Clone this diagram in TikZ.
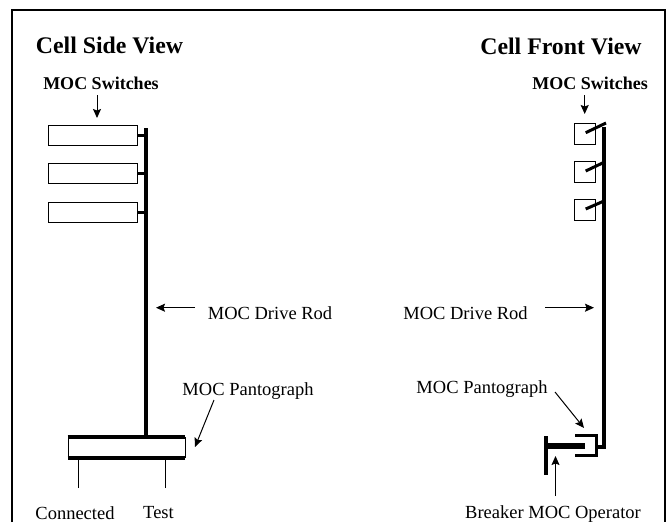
\documentclass[tikz,border=0pt]{standalone}
\usepackage{fontspec}
\setmainfont{Liberation Serif}
\usetikzlibrary{arrows.meta, positioning}

\begin{document}
\begin{tikzpicture}[
  x=1pt, y=-1pt,
  font=\fontsize{18.5}{20}\selectfont,
  title/.style={font=\fontsize{23.8}{26}\selectfont\bfseries, inner sep=0pt},
  head/.style={font=\fontsize{18}{20}\selectfont\bfseries, inner sep=0pt},
  lbl/.style={inner sep=0pt},
  swbox/.style={draw, line width=0.9pt, fill=white, minimum width=89pt, minimum height=20pt, inner sep=0pt},
  swsq/.style={draw, line width=0.9pt, fill=white, minimum width=21pt, minimum height=21pt, inner sep=0pt},
  pant/.style={draw, line width=0.9pt, fill=white, minimum width=117pt, minimum height=20pt, inner sep=0pt},
  rod/.style={line width=3.6pt},
  stub/.style={line width=3pt},
  thin leg/.style={line width=1pt},
  callout/.style={-{Stealth[length=9pt,width=8pt,inset=1.5pt]}, line width=1pt}
]
\useasboundingbox (0,0) rectangle (668,522);
\draw[line width=2pt] (12,522) -- (12,10) -- (665,10) -- (665,522);

\node[title] (sidetitle) at (109.5,45)  {Cell Side View};
\node[title] (fronttitle) at (561,46)   {Cell Front View};
\node[head] (sidesw) at (101,83)        {MOC Switches};
\node[head] (frontsw) at (590,83)       {MOC Switches};

\node[swbox] (sw1) at (92.5,135) {};
\node[swbox] (sw2) at (92.5,173.5) {};
\node[swbox] (sw3) at (92.5,212) {};
\coordinate (siderodtop) at (146,128);
\node[pant] (sidepant) at (126.5,447.5) {};
\draw[rod] (siderodtop) -- (siderodtop |- sidepant.north);
\draw[stub] (sw1.east) -- (sw1.east -| siderodtop);
\draw[stub] (sw2.east) -- (sw2.east -| siderodtop);
\draw[stub] (sw3.east) -- (sw3.east -| siderodtop);
\draw[line width=3.6pt] (sidepant.north west) -- (sidepant.north east);
\draw[line width=3.6pt] (sidepant.south west) -- (sidepant.south east);

\node[lbl] (conn) at (75,513)  {Connected};
\node[lbl] (testlbl) at (158.5,513) {Test};
\coordinate (legc) at (78,488);
\coordinate (legt) at (165,488);
\draw[thin leg] (legc) -- (legc |- sidepant.south);
\draw[thin leg] (legt) -- (legt |- sidepant.south);

\node[lbl] (siderod) at (270,313) {MOC Drive Rod};
\node[lbl] (sidepl) at (248,391)  {MOC Pantograph};
\coordinate (siderodtip) at (156,307.7);
\coordinate (sideplfrom) at (214,400);
\coordinate (sideplto) at (195,447);
\draw[callout] (195,307.7) -- (siderodtip);
\draw[callout] (sideplfrom) -- (sideplto);
\draw[callout] (97,95) -- (97,118);

\node[swsq] (fs1) at (585.2,134.3) {};
\node[swsq] (fs2) at (585.2,171.7) {};
\node[swsq] (fs3) at (585.2,210) {};
\coordinate (frontrodtop) at (604,126.7);
\coordinate (frontrodend) at (604,447);
\coordinate (pantback) at (597,447);
\draw[line width=3.6pt, line join=miter] (frontrodtop) -- (frontrodend) -- (pantback);
\draw[stub] (585.7,132.7) -- (606,123);
\draw[stub] (585.7,171) -- (604,162.3);
\draw[stub] (585.7,209) -- (604,201);
\draw[stub] (575,435) -- (596,435) -- (596,455) -- (575,455);
\coordinate (optop) at (546,436);
\coordinate (opbot) at (546,475);
\coordinate (oprod) at (585,446);
\draw[line width=4pt] (optop) -- (opbot);
\draw[line width=6pt] (oprod) -- (oprod -| optop);

\node[lbl] (frontrod) at (465.5,313) {MOC Drive Rod};
\node[lbl] (frontpl) at (482,389)  {MOC Pantograph};
\node[lbl] (breaker) at (553,514)  {Breaker MOC Operator};
\draw[callout] (545,307.7) -- (594,307.7);
\draw[callout] (555,392) -- (584,428);
\draw[callout] (555.5,496) -- (555.5,456);
\draw[callout] (584.7,95) -- (584.7,114);
\end{tikzpicture}
\end{document}
